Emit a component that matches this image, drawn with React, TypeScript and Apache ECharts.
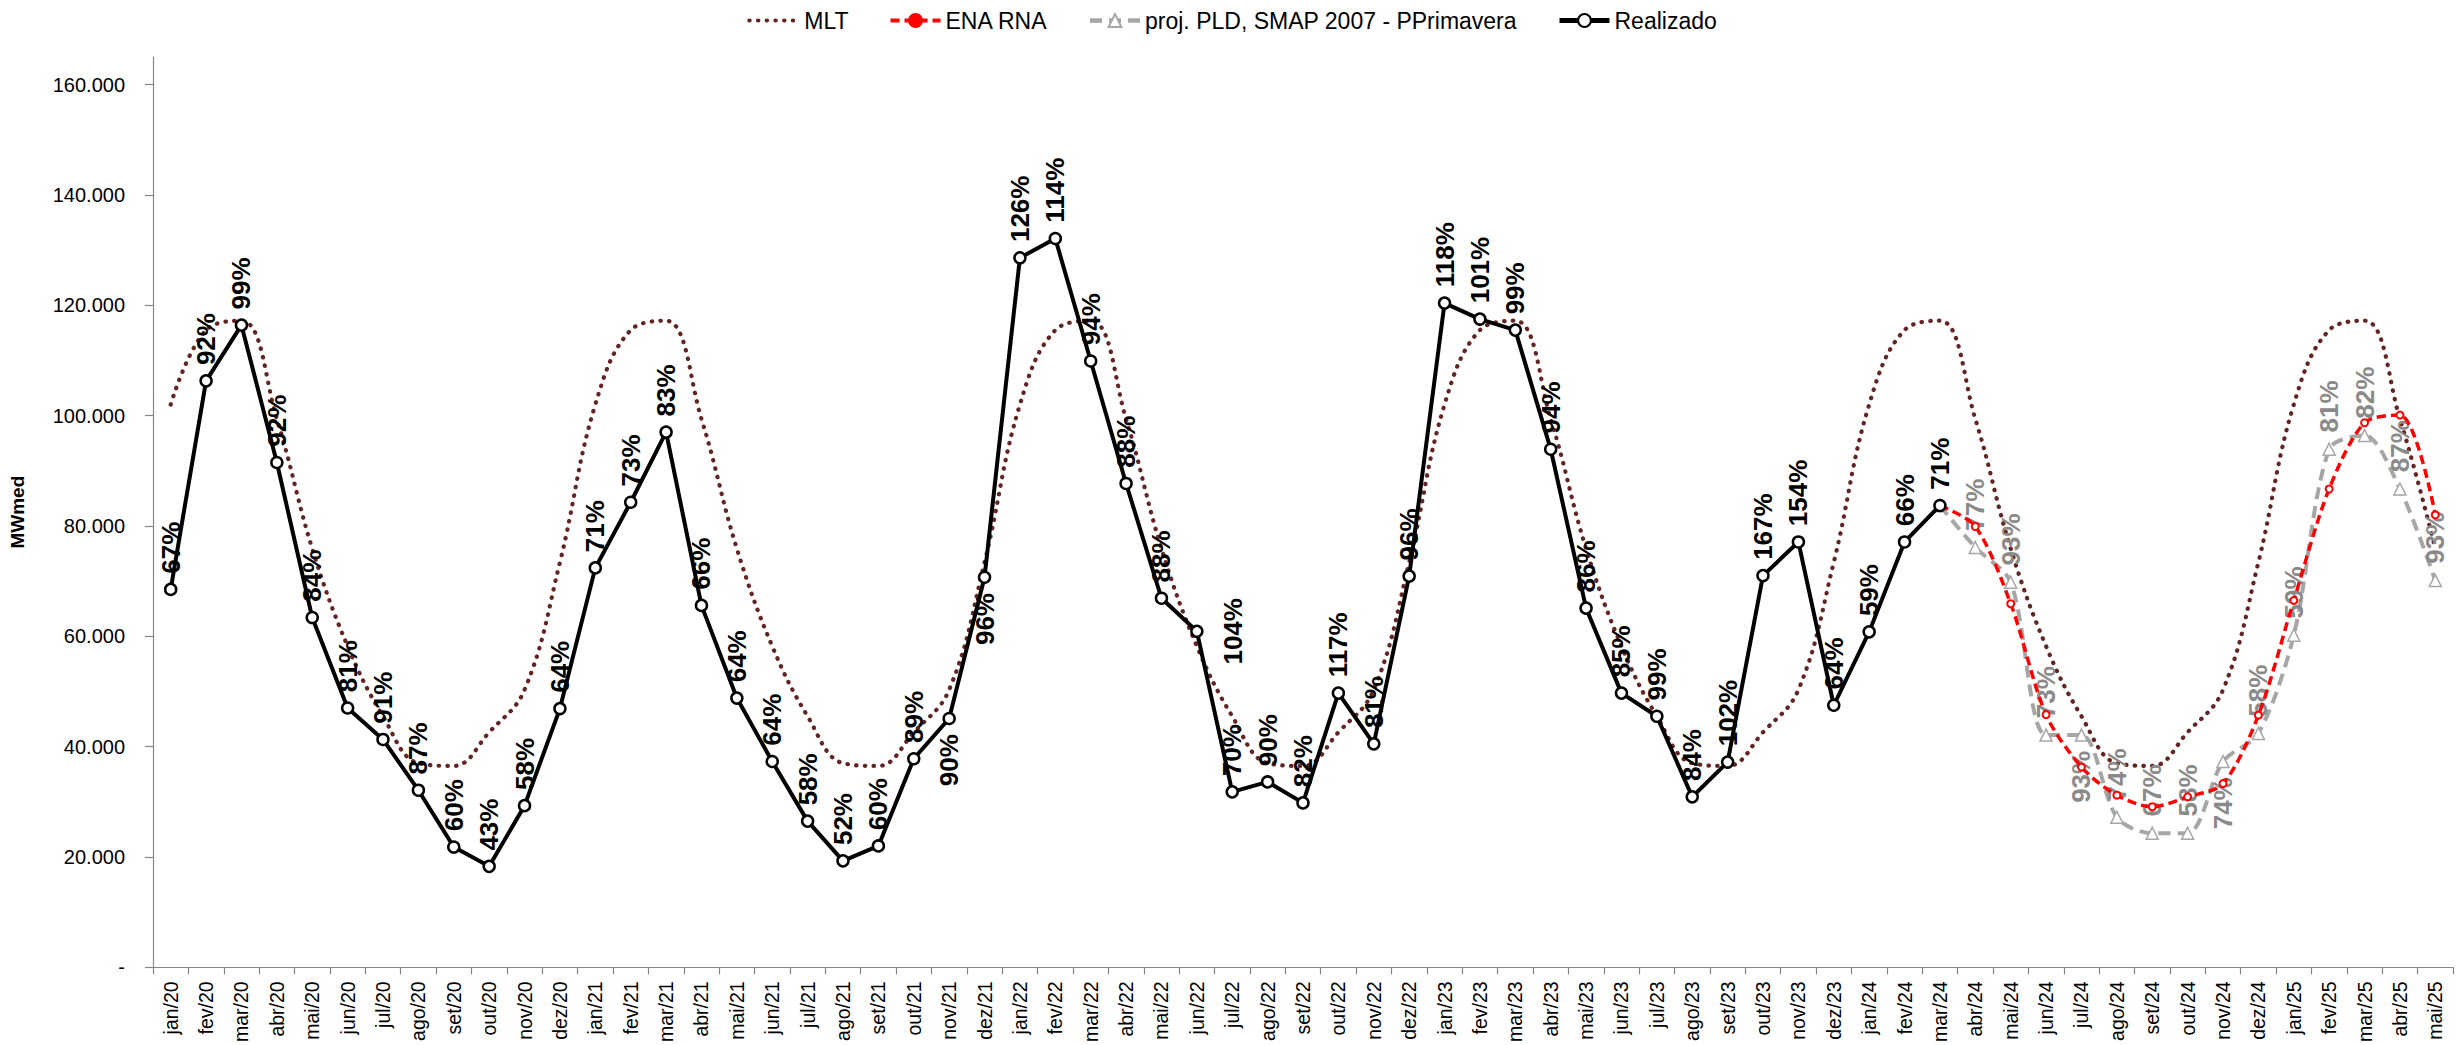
import React, { useEffect, useRef } from 'react';
import * as echarts from 'echarts';

const months = [
  'jan/20', 'fev/20', 'mar/20', 'abr/20', 'mai/20', 'jun/20', 'jul/20', 'ago/20', 'set/20', 'out/20', 'nov/20', 'dez/20',
  'jan/21', 'fev/21', 'mar/21', 'abr/21', 'mai/21', 'jun/21', 'jul/21', 'ago/21', 'set/21', 'out/21', 'nov/21', 'dez/21',
  'jan/22', 'fev/22', 'mar/22', 'abr/22', 'mai/22', 'jun/22', 'jul/22', 'ago/22', 'set/22', 'out/22', 'nov/22', 'dez/22',
  'jan/23', 'fev/23', 'mar/23', 'abr/23', 'mai/23', 'jun/23', 'jul/23', 'ago/23', 'set/23', 'out/23', 'nov/23', 'dez/23',
  'jan/24', 'fev/24', 'mar/24', 'abr/24', 'mai/24', 'jun/24', 'jul/24', 'ago/24', 'set/24', 'out/24', 'nov/24', 'dez/24',
  'jan/25', 'fev/25', 'mar/25', 'abr/25', 'mai/25',
];

// MLT (long-term average), MWmed
const mlt = [
  102000, 115500, 117200, 99400, 75900, 58200, 45500, 37000, 36500, 42600, 50300, 73400,
  102000, 115500, 117200, 99400, 75900, 58200, 45500, 37000, 36500, 42600, 50300, 73400,
  102000, 115500, 117200, 99400, 75900, 58200, 45500, 37000, 36500, 42600, 50300, 73400,
  102000, 115500, 117200, 99400, 75900, 58200, 45500, 37000, 36500, 42600, 50300, 73400,
  102000, 115500, 117200, 99400, 75900, 58200, 45500, 37000, 36500, 42600, 50300, 73400,
  102000, 115500, 117200, 99400, 75900,
];

// Realizado jan/20 .. mar/24
const realizado = [
  68500, 106300, 116400, 91500, 63400, 47000, 41300, 32100, 21800, 18300, 29300, 46900,
  72400, 84300, 97000, 65600, 48800, 37300, 26500, 19300, 22000, 37800, 45100, 70700,
  128600, 132100, 109900, 87700, 66900, 60900, 31800, 33600, 29800, 49700, 40500, 70900,
  120400, 117500, 115500, 93900, 65100, 49700, 45500, 30900, 37200, 71000, 77100, 47500,
  60800, 77100, 83700,
];
const realizadoPct = [
  67, 92, 99, 92, 84, 81, 91, 87, 60, 43, 58, 64,
  71, 73, 83, 66, 64, 64, 58, 52, 60, 89, 90, 96,
  126, 114, 94, 88, 88, 104, 70, 90, 82, 117, 81, 96,
  118, 101, 99, 94, 86, 85, 99, 84, 102, 167, 154, 64,
  59, 66, 71,
];

// Forecasts mar/24 .. mai/25
const forecastStart = 'mar/24';
const enaRna = [83700, 79900, 65900, 45800, 36300, 31200, 29100, 30900, 33300, 45700, 66500, 86700, 98700, 100100, 82000];
const projPld = [83700, 76100, 69800, 42100, 42100, 27200, 24300, 24300, 37300, 42400, 60200, 93900, 96400, 86700, 70100];
const projPct = [null, 77, 93, 73, 93, 74, 67, 58, 74, 58, 59, 81, 82, 87, 93];

const yTicks = [0, 20000, 40000, 60000, 80000, 100000, 120000, 140000, 160000];

const realLabelBelow = ['nov/21', 'dez/21'];
const realLabelRight = ['jun/22'];
const projLabelBelow = ['jul/24', 'nov/24'];

const FONT = '"Liberation Sans", Arial, sans-serif';

function fmtThousands(v: number): string {
  if (v === 0) return '-';
  return String(v).replace(/\B(?=(\d{3})+(?!\d))/g, '.');
}

const labelBase = {
  show: true,
  rotate: 90,
  fontSize: 26,
  fontWeight: 'bold' as const,
  fontFamily: FONT,
  position: 'top' as const,
  distance: 9,
  align: 'left' as const,
  verticalAlign: 'middle' as const,
};
const labelBelow = { position: 'bottom' as const, distance: 9, align: 'right' as const, verticalAlign: 'middle' as const };
const labelRight = { position: 'right' as const, distance: 16, align: 'center' as const, verticalAlign: 'top' as const };

export default function App() {
  const ref = useRef<HTMLDivElement>(null);

  useEffect(() => {
    if (!ref.current) return;
    const chart = echarts.init(ref.current, undefined, { renderer: 'svg' });
    const startIdx = months.indexOf(forecastStart);
    const pad = (arr: (number | null)[]) => months.map((_, i) => (i >= startIdx && i - startIdx < arr.length ? arr[i - startIdx] : null));

    const realData = realizado.map((v, i) => {
      const m = months[i];
      let label: any = { formatter: realizadoPct[i] + '%' };
      if (realLabelBelow.includes(m)) label = { ...label, ...labelBelow };
      if (realLabelRight.includes(m)) label = { ...label, ...labelRight };
      return { value: v, label };
    });

    const projPadded = pad(projPld);
    const projPctPadded = pad(projPct as any);
    const projData = projPadded.map((v, i) => {
      if (v === null) return null;
      const pct = projPctPadded[i];
      const m = months[i];
      let label: any = pct == null ? { show: false } : { formatter: pct + '%' };
      if (pct != null && projLabelBelow.includes(m)) label = { ...label, ...labelBelow };
      return { value: v, label };
    });

    const option: any = {
      animation: false,
      backgroundColor: '#ffffff',
      textStyle: { fontFamily: FONT },
      legend: {
        top: 4,
        left: 'center',
        itemWidth: 50,
        itemHeight: 16,
        itemGap: 40,
        textStyle: { fontSize: 23, color: '#000', fontFamily: FONT },
        data: [
          { name: 'MLT', itemStyle: { opacity: 0 }, lineStyle: { width: 4 } },
          { name: 'ENA RNA', lineStyle: { width: 4 }, itemStyle: { color: '#FF0000', borderColor: '#FF0000' } },
          { name: 'proj. PLD, SMAP 2007 - PPrimavera', lineStyle: { width: 4.5 } },
          { name: 'Realizado', lineStyle: { width: 5 } },
        ],
      },
      grid: { left: 146, right: 11, top: 57, bottom: 76, containLabel: false },
      xAxis: {
        type: 'category',
        data: months,
        boundaryGap: true,
        axisLine: { show: true, lineStyle: { color: '#868686', width: 1.2 } },
        axisTick: { show: true, length: 7, lineStyle: { color: '#868686', width: 1.2 }, interval: 0 },
        axisLabel: { rotate: 90, fontSize: 19.5, color: '#000', margin: 14, interval: 0, fontFamily: FONT },
        splitLine: { show: false },
      },
      yAxis: {
        type: 'value',
        min: 0,
        max: 165000,
        interval: 20000,
        name: 'MWmed',
        nameLocation: 'middle',
        nameGap: 126,
        nameRotate: 90,
        nameTextStyle: { fontSize: 19, fontWeight: 'bold', color: '#000', fontFamily: FONT },
        axisLine: { show: true, lineStyle: { color: '#868686', width: 1.2 } },
        axisTick: { show: true, length: 8, lineStyle: { color: '#868686', width: 1.2 }, customValues: yTicks },
        axisLabel: {
          fontSize: 20,
          color: '#000',
          margin: 28,
          fontFamily: FONT,
          customValues: yTicks,
          formatter: (v: number) => (yTicks.includes(v) ? fmtThousands(v) : ''),
        },
        splitLine: { show: false },
      },
      series: [
        {
          name: 'MLT',
          type: 'line',
          data: mlt,
          smooth: 0.4,
          symbol: 'none',
          lineStyle: { color: '#632523', width: 4.2, type: [0.5, 8.2], cap: 'round' },
          itemStyle: { color: '#632523' },
          z: 1,
        },
        {
          name: 'proj. PLD, SMAP 2007 - PPrimavera',
          type: 'line',
          data: projData,
          smooth: 0.3,
          symbol: 'triangle',
          symbolSize: 12,
          showSymbol: true,
          lineStyle: { color: '#A6A6A6', width: 4, type: [12, 7] },
          itemStyle: { color: '#ffffff', borderColor: '#A6A6A6', borderWidth: 1.5 },
          label: { ...labelBase, color: '#8A8A8A', distance: 10 },
          z: 2,
        },
        {
          name: 'ENA RNA',
          type: 'line',
          data: pad(enaRna),
          smooth: 0.3,
          symbol: 'circle',
          symbolSize: 7,
          lineStyle: { color: '#FF0000', width: 3.5, type: [9, 5] },
          itemStyle: { color: '#ffffff', borderColor: '#FF0000', borderWidth: 2 },
          z: 3,
        },
        {
          name: 'Realizado',
          type: 'line',
          data: realData,
          symbol: 'circle',
          symbolSize: 11,
          lineStyle: { color: '#000000', width: 4 },
          itemStyle: { color: '#ffffff', borderColor: '#000000', borderWidth: 2.5 },
          label: { ...labelBase, color: '#000000' },
          z: 4,
        },
      ],
    };
    chart.setOption(option);
    return () => chart.dispose();
  }, []);

  return (
    <div
      ref={ref}
      style={{ position: 'absolute', left: 0, top: 0, width: 2464, height: 1045, background: '#fff' }}
    />
  );
}
